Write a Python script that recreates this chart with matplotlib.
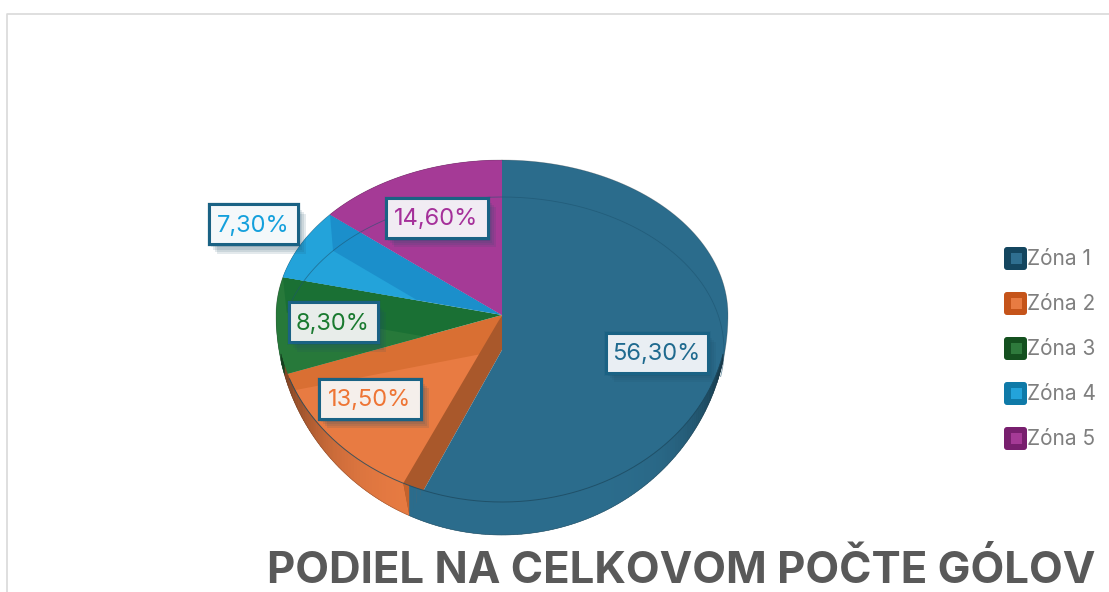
#!/usr/bin/env python3
"""Pseudo 3D pie: share of total goals per zone."""

import numpy as np
import matplotlib
matplotlib.use('Agg')
import matplotlib.pyplot as plt
import matplotlib.patheffects as pe
from matplotlib.colors import to_rgb
from matplotlib.patches import FancyBboxPatch, Polygon, Rectangle

zones = ['Zóna 1', 'Zóna 2', 'Zóna 3', 'Zóna 4', 'Zóna 5']
shares = [56.3, 13.5, 8.3, 7.3, 14.6]
share_labels = ['56,30%', '13,50%', '8,30%', '7,30%', '14,60%']
title = 'PODIEL NA CELKOVOM POČTE GÓLOV'

face_dark = ['#2b6c8c', '#d96f33', '#1a7034', '#1b8fcb', '#a53a96']
face_light = ['#2b6c8c', '#e87b42', '#27793a', '#23a3da', '#a53a96']
text_colors = ['#1f6a8f', '#ee7535', '#1a7a30', '#14a0dc', '#a5309a']
box_fills = ['#e9eef3', '#f5efeb', '#e8edea', '#f4f8fa', '#f1ecf3']
legend_outer = ['#14465f', '#c5541a', '#14501f', '#0f7aa8', '#781f6e']
legend_inner = ['#2f6f90', '#e87b42', '#2e7a3c', '#23a3da', '#a53a96']
label_centers = [(656.5, 352.5), (370, 398.5), (333, 322), (253.5, 224), (436.5, 217.5)]

CX, CY, CY2 = 502, 315, 350
RX, RY_BACK, RY_RIM, RY_OUT = 226, 155, 187, 220
INNER_RX, INNER_RY = 222, 153
PERSPECTIVE_SHIFT = np.radians(3)  # slice edges left of the top lean a bit in the projection
WALL_START = np.radians(102)


def outer(t):
    k = np.cos(t)
    return CX + RX * np.sin(t), CY - np.where(k > 0, RY_BACK, RY_OUT) * k


def rim(t):
    k = np.cos(t)
    return CX + RX * np.sin(t), CY - np.where(k > 0, RY_BACK, RY_RIM) * k


def inner(t):
    return CX + INNER_RX * np.sin(t), CY2 - INNER_RY * np.cos(t)


def arc(func, a, b, n=120):
    x, y = func(np.linspace(a, b, n))
    return np.column_stack([x, y])


def draw_wall(ax, a, b, color, zorder, power=5, depth=0.55):
    """Side wall under the rim, darker towards the sides of the pie."""
    base = np.array(to_rgb(color))
    a, b = max(a, WALL_START), min(b, 2 * np.pi - WALL_START)
    if b <= a:
        return
    steps = np.linspace(a, b, max(int(np.degrees(b - a)), 2) + 1)
    for s, e in zip(steps[:-1], steps[1:]):
        quad = np.vstack([arc(rim, s, e, 4), arc(outer, e, s, 4)])
        shade = 1 - depth * abs(np.sin((s + e) / 2)) ** power
        ax.add_patch(Polygon(quad, closed=True, fc=base * shade, ec=base * shade, lw=0.3, zorder=zorder))


def main():
    fig = plt.figure(figsize=(11.09, 5.92), dpi=100)
    ax = fig.add_axes([0, 0, 1, 1])
    ax.set_xlim(0, 1109)
    ax.set_ylim(592, 0)
    ax.axis('off')

    # chart frame, cut off by the screenshot
    ax.plot([7, 7, 1109], [592, 14, 14], color='#d9d9d9', lw=1.2)

    edges = np.radians(np.cumsum([0] + shares) / sum(shares) * 360)
    edges[2:-1] += PERSPECTIVE_SHIFT
    edges[1] += PERSPECTIVE_SHIFT / 2
    apex = (CX, CY)
    apex2 = (CX, CY2)

    for i in range(1, len(shares)):
        a, b = edges[i], edges[i + 1]
        slice_pts = np.vstack([[apex], arc(outer, a, b)])
        ax.add_patch(Polygon(slice_pts, closed=True, fc=face_dark[i], ec='none', zorder=2))
        # lighter part seen from the lower apex
        light_pts = np.vstack([[apex2], arc(inner, a, b)])
        far = np.array(apex2) + (light_pts[1:] - np.array(apex2)) * 1.6
        light = Polygon(np.vstack([[apex2], far]), closed=True, fc=face_light[i], ec='none', zorder=2.5)
        ax.add_patch(light)
        light.set_clip_path(Polygon(slice_pts, closed=True, transform=ax.transData))
        # ring between the bevel and the outline
        ring = np.vstack([arc(outer, a, b), arc(inner, b, a)])
        ring_patch = Polygon(ring, closed=True, fc=face_light[i], ec='none', zorder=2.6)
        ax.add_patch(ring_patch)
        ring_patch.set_clip_path(Polygon(slice_pts, closed=True, transform=ax.transData))
        draw_wall(ax, a, b, face_light[i], zorder=3)

    # cut face of the big slice, seen in the orange one
    a1 = edges[1]
    rim_pt = arc(rim, a1 + 0.03, a1 + 0.03, 1)
    out_pt = arc(outer, a1, a1, 1)
    strip = np.vstack([[apex], rim_pt, out_pt, [apex2]])
    ax.add_patch(Polygon(strip, closed=True, fc='#a9582b', ec='none', zorder=3.5))
    cut = np.vstack([rim_pt, out_pt, arc(rim, a1 - 0.07, a1 - 0.07, 1)])
    ax.add_patch(Polygon(cut, closed=True, fc='#c4622c', ec='none', zorder=3.6))

    # big slice goes on top
    big = np.vstack([arc(outer, 0, a1), [apex2], [(CX, outer(np.array(0.0))[1])]])
    ax.add_patch(Polygon(big, closed=True, fc=face_dark[0], ec='none', zorder=4))
    draw_wall(ax, edges[0], a1, face_dark[0], zorder=4.2, power=7, depth=0.6)

    # thin bevel lines
    back = arc(inner, np.radians(-75), np.radians(100), 200)
    ax.plot(back[:, 0], back[:, 1], color='#1d5470', lw=0.6, alpha=0.6, zorder=4.4)
    front = arc(rim, np.radians(103), np.radians(250), 200)
    ax.plot(front[:, 0], front[:, 1], color='#1d4a60', lw=0.7, alpha=0.8, zorder=4.4)
    ol = arc(outer, 0, 2 * np.pi, 400)
    ax.plot(ol[:, 0], ol[:, 1], color='#333333', lw=0.5, alpha=0.3, zorder=4.4)

    # data labels, soft shadow from a few stacked offsets
    shadow = [pe.withSimplePatchShadow(offset=(o, -o - 1), shadow_rgbFace='#1f4f68', alpha=0.12)
              for o in (6, 4.5, 3, 1.5)]
    for (x, y), text, color, fill in zip(label_centers, share_labels, text_colors, box_fills):
        w = 102 if len(text) > 5 else 89
        box = Rectangle((x - w / 2, y - 20), w, 40, fc=fill, ec='#1a6284', lw=2.2, zorder=5.8)
        box.set_path_effects(shadow)
        ax.add_patch(box)
        ax.text(x, y + 1.5, text, color=color, fontsize=17, family='Inter', ha='center', va='center', zorder=6)

    # legend
    for i, name in enumerate(zones):
        y = 258.5 + 45 * i
        ax.add_patch(FancyBboxPatch((1006, y - 9.5), 19, 19, boxstyle='round,pad=2,rounding_size=3',
                                    fc=legend_outer[i], ec='none', zorder=5))
        ax.add_patch(Rectangle((1010.5, y - 5.5), 11, 11, fc=legend_inner[i], ec='none', zorder=5.1))
        ax.text(1027, y + 0.5, name, color='#7f7f7f', fontsize=15, family='Inter', ha='left', va='center')

    ax.text(1095, 583, title, color='#595959', fontsize=31.5, fontweight='bold', family='Inter',
            ha='right', va='baseline')

    fig.savefig('out.png', dpi=100)
    plt.close(fig)


if __name__ == '__main__':
    main()
